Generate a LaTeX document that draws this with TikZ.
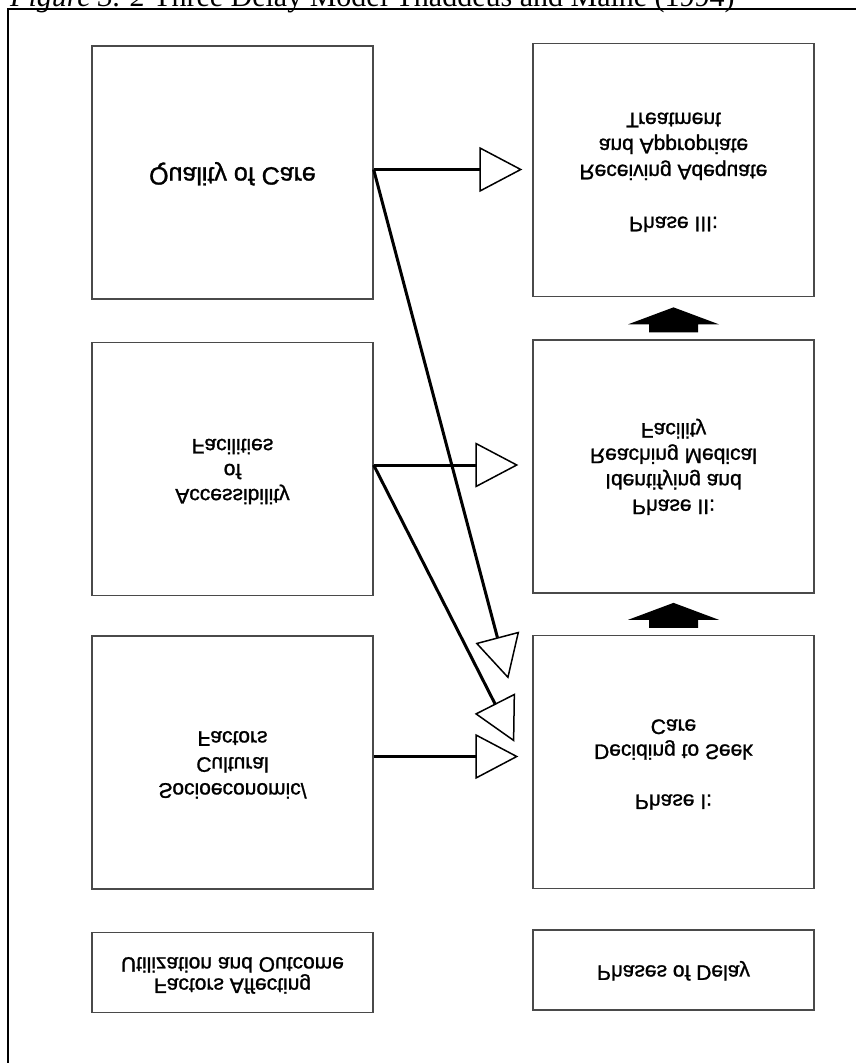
\documentclass[tikz,border=0pt]{standalone}
\usepackage{fontspec}
\usepackage{graphicx}
\setmainfont{Liberation Serif}
\newfontfamily\boxfont[FakeBold=1.2]{Liberation Sans}
\usetikzlibrary{arrows.meta,calc}
\definecolor{boxgray}{HTML}{4A4A4A}
% mirrored (top to bottom), centred block of lines
\newcommand{\fliptext}[3][21]{\scalebox{1}[-1]{\fontsize{#1}{#2}\selectfont\begin{tabular}{@{}c@{}}#3\end{tabular}}}
\tikzset{
  box/.style={draw=boxgray, line width=1.3pt, minimum width=281pt, minimum height=253pt, inner sep=0pt, font=\boxfont},
  smallbox/.style={box, minimum height=80pt},
  link/.style={line width=3pt, -{Triangle[length=43pt, width=45pt, line width'=1.5pt, fill=white]}},
}
\begin{document}
\begin{tikzpicture}[x=1pt,y=-1pt]
\useasboundingbox (0,0) rectangle (856,1063);
\clip (0,0) rectangle (856,1063);

% caption, cut by the upper edge
\node[anchor=base west, inner sep=0pt, font=\fontsize{30}{34}\selectfont] (title) at (10,6)
  {\textit{Figure 3. 2} Three Delay Model Thaddeus and Maine (1994)};

% outer frame
\draw[line width=2pt] (8,1100) -- (8,9) -- (900,9);

% factor boxes
\node[box] (qoc) at (232.5,172.5) {\fliptext[25]{26}{Quality of Care}};
\node[box] (acc) at (232.5,469) {\fliptext{25}{Accessibility\\of\\Facilities}};
\node[box] (soc) at (232.5,762.5) {\raisebox{-6pt}{\fliptext{26}{Socioeconomic/\\Cultural\\Factors}}};
\node[smallbox] (fac) at (232.5,972.5) {\fliptext{20}{Factors Affecting\\Utilization and Outcome}};

% phase boxes
\node[box] (p3) at (673.5,170) {\fliptext{26}{Phase III:\\ \\Receiving Adequate\\and Appropriate\\Treatment}};
\node[box] (p2) at (673.5,466.5) {\fliptext{25.5}{Phase II:\\Identifying and\\Reaching Medical\\Facility}};
\node[box] (p1) at (673.5,762) {\fliptext{25}{Phase I:\\ \\Deciding to Seek\\Care}};
\node[smallbox] (pod) at (673.5,970) {\fliptext{20}{Phases of Delay}};

% links from factors to phases
\coordinate (q0) at ($(qoc.east)+(0,-3)$);
\coordinate (a0) at ($(acc.east)+(0,-4)$);
\coordinate (s0) at ($(soc.east)+(0,-6)$);
\draw[link] (q0) -- ($(q0 -| p3.west)+(-10,0)$);
\draw[link] (q0) -- ($(p1.north west)+(-24,44)$);
\draw[link] (a0) -- ($(a0 -| p2.west)+(-14,0)$);
\draw[link] (a0) -- ($(p1.north west)+(-18,107)$);
\draw[link] (s0) -- ($(s0 -| p1.west)+(-14,0)$);

% progression between phases
\fill ($(p2.north)+(-24.5,-7)$) -- ++(0,-8) -- ++(-21,0) -- ($(p2.north)+(0,-32)$)
  -- ($(p2.north)+(45.5,-15)$) -- ++(-21,0) -- ++(0,8) -- cycle;
\fill ($(p1.north)+(-24.5,-7)$) -- ++(0,-8) -- ++(-21,0) -- ($(p1.north)+(0,-32)$)
  -- ($(p1.north)+(45.5,-15)$) -- ++(-21,0) -- ++(0,8) -- cycle;
\end{tikzpicture}
\end{document}
